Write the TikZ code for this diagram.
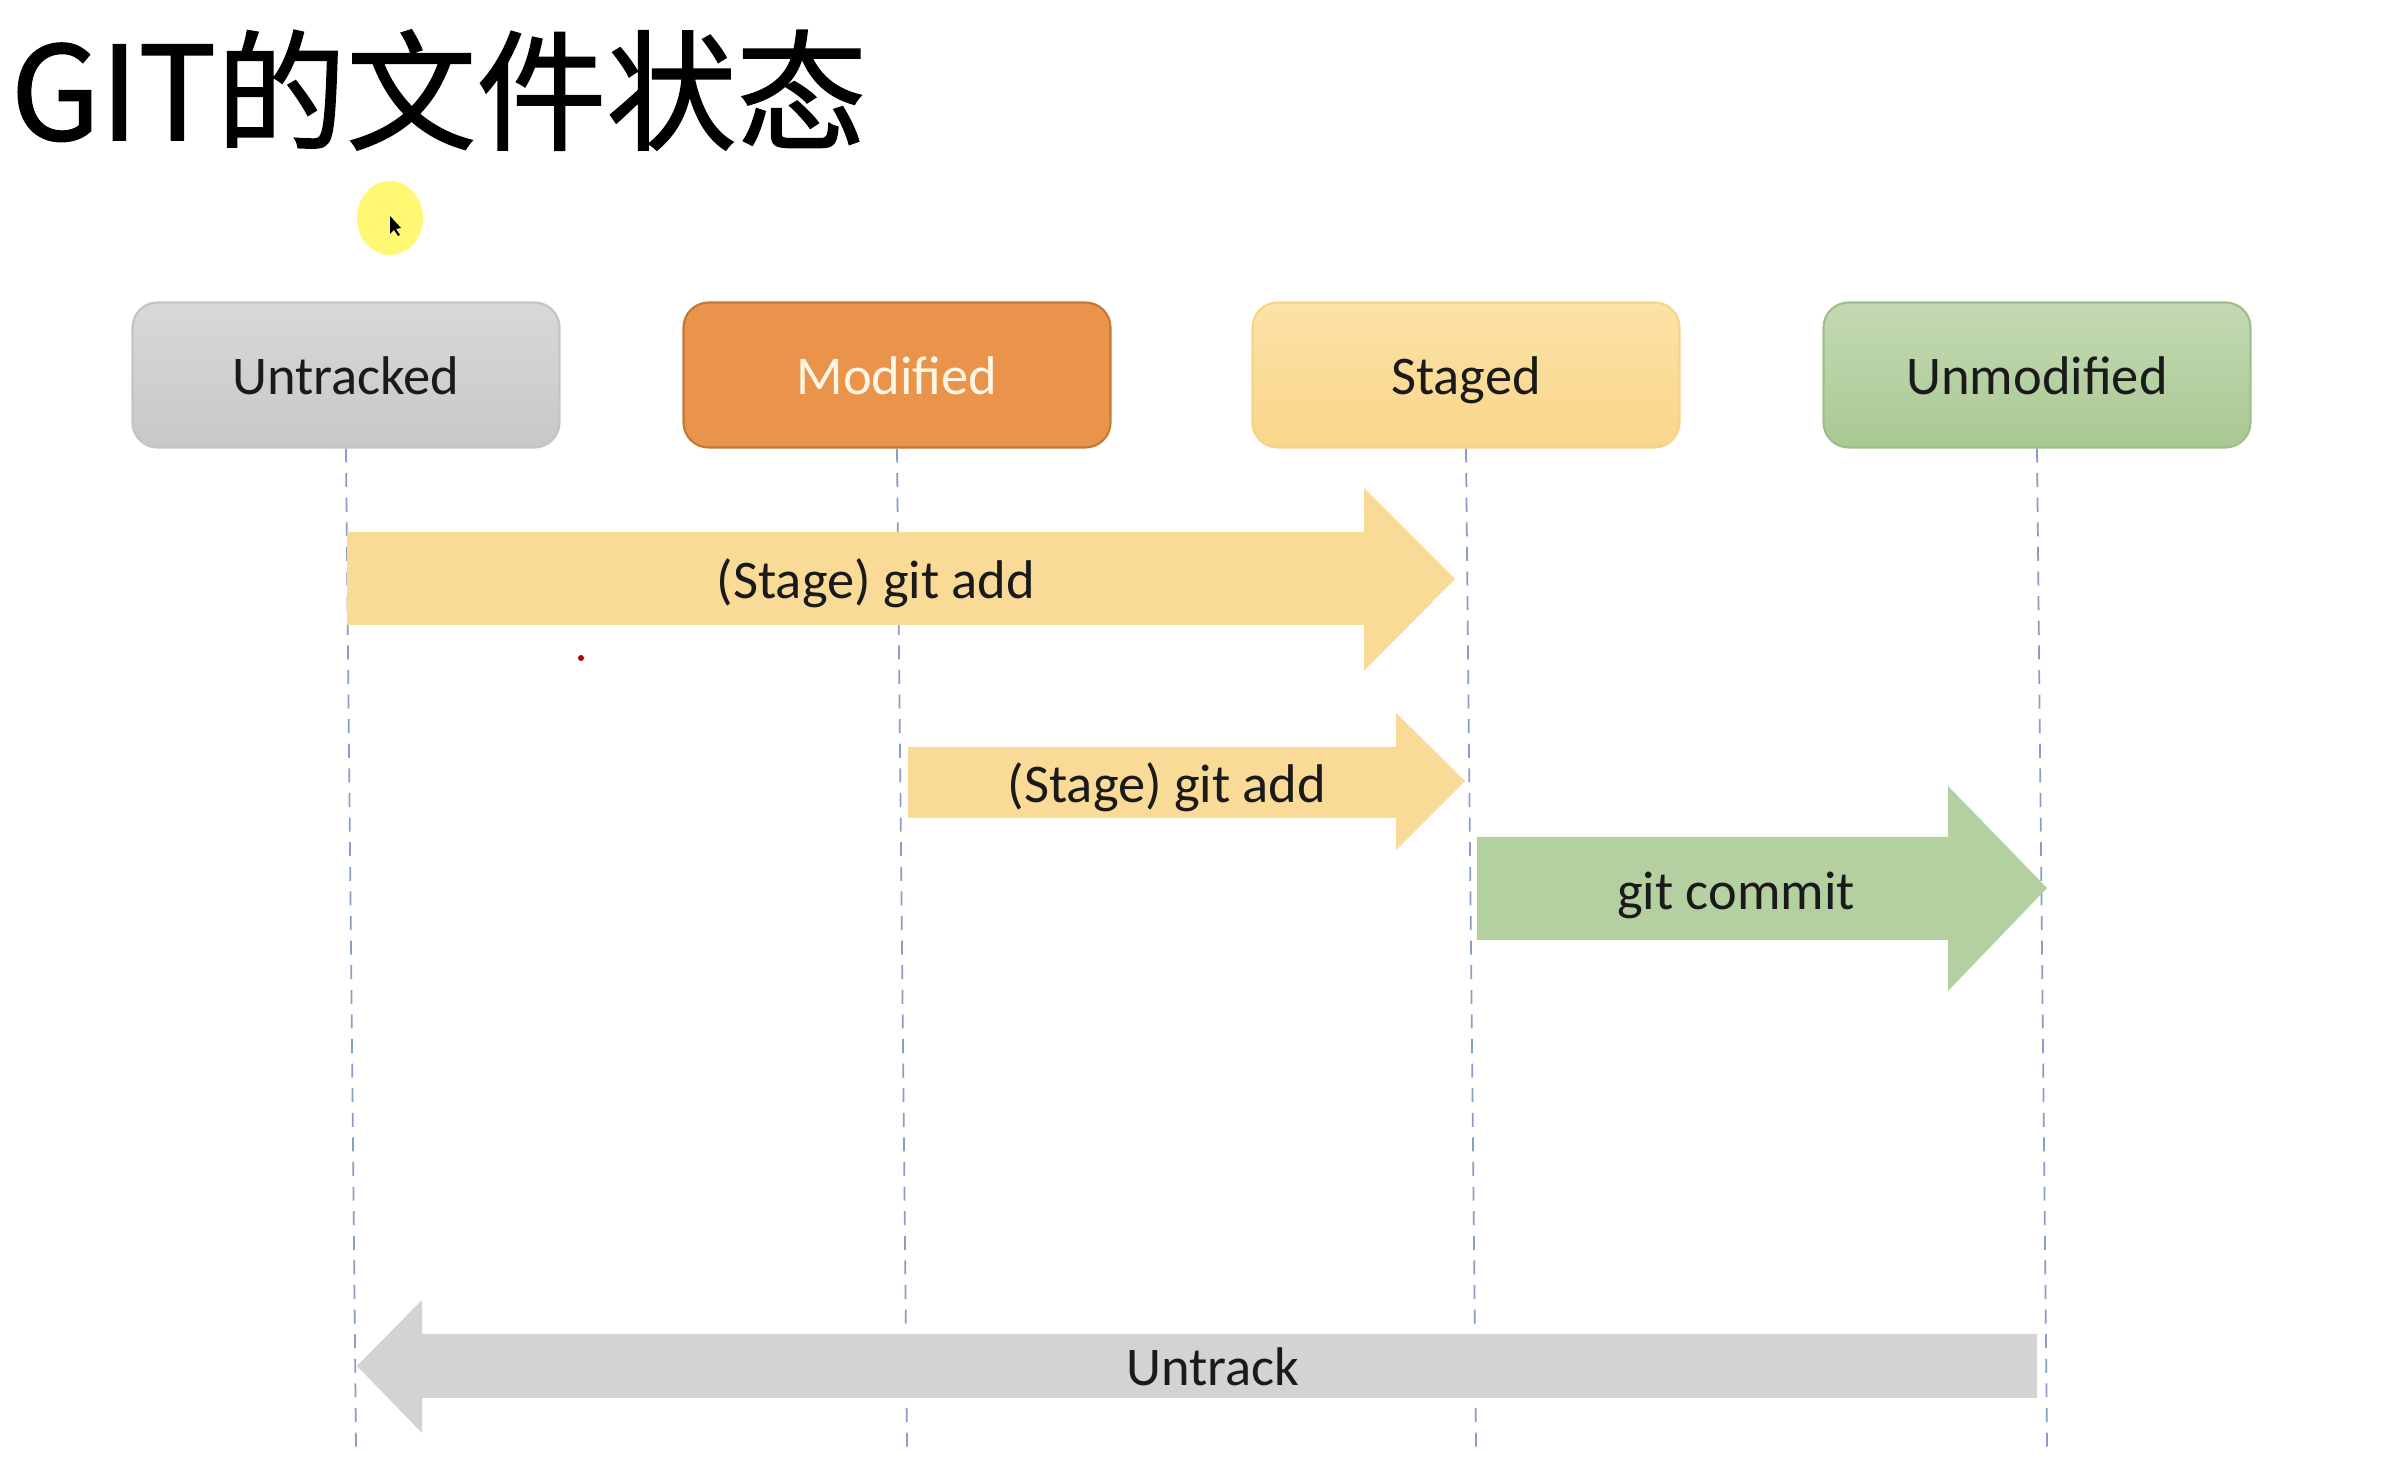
\documentclass[tikz,border=0pt]{standalone}
\usepackage{fontspec}
\setmainfont{Carlito}
\newfontfamily\cjk[FakeBold=1.2]{Noto Sans CJK SC}
\usetikzlibrary{calc}

\definecolor{addyellow}{HTML}{F9DB97}
\definecolor{commitgreen}{HTML}{B4CFA0}
\definecolor{untrackgray}{HTML}{D3D3D3}
\definecolor{guideblue}{HTML}{8A9CC8}
\definecolor{labelblack}{HTML}{1A1A1A}

\begin{document}
\begin{tikzpicture}[
    state/.style={rectangle, rounded corners=0.25cm, minimum width=4.27cm, minimum height=1.45cm,
      line width=0.6pt, text=labelblack, font=\fontsize{15.5}{19}\selectfont, text height=12pt, text depth=1pt},
    guide/.style={guideblue, dashed, line width=0.5pt, dash pattern=on 4pt off 3pt},
    label/.style={text=labelblack, font=\fontsize{15.5}{19}\selectfont, inner sep=0, text height=12pt, text depth=1pt}
  ]
      \useasboundingbox (0,0) rectangle (23.9,14.64);
      \fill[white] (0,0) rectangle (23.9,14.64);

      % title and the pointer
      \node [anchor=base west, inner sep=0] (title) at (0.1,13.24) {\cjk\fontsize{37}{40}\selectfont GIT的文件状态};
      \fill [yellow!55!white] (3.90,12.46) ellipse (0.33cm and 0.37cm);
      \fill [black] (3.90,12.48) -- (3.90,12.30) -- (3.94,12.34) -- (3.98,12.28) -- (4.00,12.29) -- (3.96,12.35) -- (4.01,12.36) -- cycle;
      \fill [red!70!black] (5.81,8.06) circle (0.03);

      % the four states
      \node [state, top color={rgb,255:red,216;green,216;blue,216}, bottom color={rgb,255:red,200;green,200;blue,200}, draw={rgb,255:red,196;green,196;blue,196}] (untracked) at (3.46,10.89) {Untracked};
      \node [state, fill={rgb,255:red,233;green,148;blue,74}, draw={rgb,255:red,196;green,120;blue,54}, text={rgb,255:red,255;green,246;blue,230}] (modified) at (8.97,10.89) {Modified};
      \node [state, top color={rgb,255:red,251;green,226;blue,166}, bottom color={rgb,255:red,249;green,214;blue,138}, draw={rgb,255:red,245;green,212;blue,137}] (staged) at (14.66,10.89) {Staged};
      \node [state, top color={rgb,255:red,196;green,217;blue,179}, bottom color={rgb,255:red,169;green,201;blue,147}, draw={rgb,255:red,158;green,191;blue,136}] (unmodified) at (20.37,10.89) {Unmodified};

      \foreach \s in {untracked, modified, staged, unmodified}
        \draw [guide] (\s.south) -- ++(0.1,-10.0);

      % transitions
      \fill [addyellow] (3.47,9.32) -- (13.64,9.32) -- (13.64,9.76) -- (14.55,8.85) -- (13.64,7.93) -- (13.64,8.39) -- (3.47,8.39) -- cycle;
      \node [label] (add1) at (8.76,8.85) {(Stage) git add};

      \fill [addyellow] (9.08,7.17) -- (13.96,7.17) -- (13.96,7.51) -- (14.65,6.83) -- (13.96,6.14) -- (13.96,6.46) -- (9.08,6.46) -- cycle;
      \node [label] (add2) at (11.67,6.81) {(Stage) git add};

      \fill [commitgreen] (14.77,6.27) -- (19.48,6.27) -- (19.48,6.78) -- (20.47,5.76) -- (19.48,4.73) -- (19.48,5.24) -- (14.77,5.24) -- cycle;
      \node [label] (commit) at (17.36,5.74) {git commit};

      \fill [untrackgray] (20.37,1.30) -- (4.22,1.30) -- (4.22,1.64) -- (3.57,0.98) -- (4.22,0.31) -- (4.22,0.66) -- (20.37,0.66) -- cycle;
      \node [label] (untrack) at (12.13,0.98) {Untrack};
\end{tikzpicture}
\end{document}
